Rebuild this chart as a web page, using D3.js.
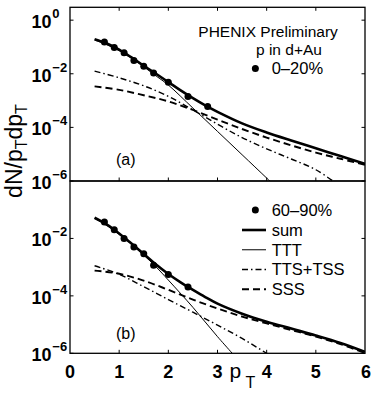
<!DOCTYPE html>
<html><head><meta charset="utf-8">
<script src="https://cdn.jsdelivr.net/npm/d3@7"></script>
<style>
body{margin:0;background:#fff}
svg{display:block}
text{font-family:"Liberation Sans",Arial,Helvetica,sans-serif;fill:#000}
</style>
</head><body>
<svg id="c" width="374" height="395"></svg>
<script>
// ---- data (values as log10 of dN/pTdpT) ----
const xTicks = [0, 1, 2, 3, 4, 5, 6];
const yTicksTop = [0, -2, -4, -6];
const yTicksBot = [-2, -4, -6];

// panel (a): 0-20%
const ptsTopX = [0.7, 0.9, 1.1, 1.3, 1.5, 1.7, 2.0, 2.4, 2.8];
const ptsTopY = [-0.81, -1.02, -1.22, -1.50, -1.72, -1.97, -2.32, -2.85, -3.22];
const sumTopX = [0.5, 0.75, 1, 1.25, 1.5, 1.75, 2, 2.25, 2.5, 2.75, 3, 3.5, 4, 4.5, 5, 5.5, 6];
const sumTopY = [-0.71, -0.87, -1.10, -1.39, -1.70, -2.00, -2.31, -2.62, -2.91, -3.18, -3.42, -3.85, -4.19, -4.49, -4.78, -5.07, -5.36];
const tttTopX = [0.5, 0.75, 1, 1.25, 1.5, 1.75, 2, 2.5, 3, 3.5, 4, 4.25];
const tttTopY = [-0.74, -0.92, -1.14, -1.42, -1.74, -2.08, -2.42, -3.28, -4.15, -5.02, -5.89, -6.33];
const ttsTopX = [0.5, 1, 1.5, 2, 2.5, 3, 3.5, 4, 4.5, 5, 5.5];
const ttsTopY = [-1.90, -2.15, -2.45, -2.84, -3.35, -3.88, -4.38, -4.80, -5.18, -5.58, -6.20];
const sssTopX = [0.5, 1, 1.5, 2, 2.5, 3, 3.5, 4, 4.5, 5, 5.5, 6];
const sssTopY = [-2.47, -2.60, -2.80, -3.03, -3.35, -3.71, -4.06, -4.38, -4.67, -4.94, -5.17, -5.40];

// panel (b): 60-90%
const ptsBotX = [0.7, 0.9, 1.1, 1.3, 1.5, 1.7, 2.0, 2.4];
const ptsBotY = [-1.43, -1.70, -2.00, -2.30, -2.53, -2.93, -3.26, -3.69];
const sumBotX = [0.5, 0.75, 1, 1.25, 1.5, 1.75, 2, 2.25, 2.5, 2.75, 3, 3.5, 4, 4.5, 5, 5.5, 6];
const sumBotY = [-1.28, -1.52, -1.83, -2.18, -2.54, -2.91, -3.24, -3.53, -3.79, -4.04, -4.27, -4.62, -4.90, -5.14, -5.38, -5.64, -5.95];
const tttBotX = [0.5, 0.75, 1, 1.25, 1.5, 1.75, 2, 2.5, 3, 3.5];
const tttBotY = [-1.30, -1.55, -1.86, -2.20, -2.58, -2.99, -3.45, -4.40, -5.42, -6.38];
const ttsBotX = [0.5, 1, 1.5, 2, 2.5, 3, 3.5, 4, 4.5];
const ttsBotY = [-2.95, -3.25, -3.68, -4.13, -4.57, -5.02, -5.48, -6.00, -6.50];
const sssBotX = [0.5, 1, 1.5, 2, 2.5, 3, 3.5, 4, 4.5, 5, 5.5, 6];
const sssBotY = [-3.12, -3.23, -3.47, -3.79, -4.13, -4.44, -4.72, -4.96, -5.19, -5.42, -5.68, -5.99];

const legendLabels = ["sum", "TTT", "TTS+TSS", "SSS"];

// ---- drawing ----
const svg = d3.select("#c");
const L = 70, R = 365;
const x = d3.scaleLinear().domain([0, 6]).range([L, R]);
const yTop = d3.scaleLog().domain([1e-6, Math.pow(10, 0.48)]).range([181, 7.3]);
const yBot = d3.scaleLog().domain([1e-6, 1]).range([353.3, 181]);

const styles = {
  sum: {w: 2.6, dash: null},
  ttt: {w: 1.0, dash: null},
  tts: {w: 1.4, dash: "6,3,1.5,3"},
  sss: {w: 1.9, dash: "7,4"}
};

function zip(xs, ys) { return xs.map((v, i) => ({x: v, y: Math.pow(10, ys[i])})); }

const panels = [
  {id: "a", y: yTop, top: 7.3, bot: 181, pts: zip(ptsTopX, ptsTopY),
   curves: [["sss", zip(sssTopX, sssTopY)], ["tts", zip(ttsTopX, ttsTopY)], ["ttt", zip(tttTopX, tttTopY)], ["sum", zip(sumTopX, sumTopY)]],
   yt: yTicksTop, label: "(a)", labelY: 165},
  {id: "b", y: yBot, top: 181, bot: 353.3, pts: zip(ptsBotX, ptsBotY),
   curves: [["sss", zip(sssBotX, sssBotY)], ["tts", zip(ttsBotX, ttsBotY)], ["ttt", zip(tttBotX, tttBotY)], ["sum", zip(sumBotX, sumBotY)]],
   yt: yTicksBot, label: "(b)", labelY: 338.5}
];

const TK = 3.5;
panels.forEach(p => {
  const clipId = "clip" + p.id;
  svg.append("clipPath").attr("id", clipId).append("rect")
    .attr("x", L).attr("y", p.top).attr("width", R - L).attr("height", p.bot - p.top);
  const g = svg.append("g").attr("clip-path", `url(#${clipId})`);
  const line = d3.line().x(d => x(d.x)).y(d => p.y(d.y)).curve(d3.curveCatmullRom.alpha(0.5));
  p.curves.forEach(([k, data]) => {
    const st = styles[k];
    g.append("path").attr("d", line(data)).attr("fill", "none").attr("stroke", "#000")
      .attr("stroke-width", st.w).attr("stroke-dasharray", st.dash);
  });
  g.selectAll("circle.pt").data(p.pts).join("circle").attr("class", "pt")
    .attr("cx", d => x(d.x)).attr("cy", d => p.y(d.y)).attr("r", 3.5).attr("fill", "#000");

  // ticks
  const ax = svg.append("g").attr("stroke", "#000").attr("stroke-width", 1);
  [1, 2, 3, 4, 5].forEach(v => {
    ax.append("line").attr("x1", x(v)).attr("x2", x(v)).attr("y1", p.bot).attr("y2", p.bot - TK);
    if (p.id === "a") ax.append("line").attr("x1", x(v)).attr("x2", x(v)).attr("y1", p.top).attr("y2", p.top + TK);
  });
  p.yt.forEach(e => {
    const yy = p.y(Math.pow(10, e));
    ax.append("line").attr("x1", L).attr("x2", L + TK).attr("y1", yy).attr("y2", yy);
    ax.append("line").attr("x1", R).attr("x2", R - TK).attr("y1", yy).attr("y2", yy);
    svg.append("text").attr("x", 51.5).attr("y", yy + 8).attr("text-anchor", "end")
      .attr("font-size", 18).attr("font-weight", "bold").text("10");
    svg.append("text").attr("x", 52.3).attr("y", yy - 2).attr("text-anchor", "start")
      .attr("font-size", 13).attr("font-weight", "bold").text(e === 0 ? "0" : "\u2212" + Math.abs(e));
  });
  svg.append("rect").attr("x", L).attr("y", p.top).attr("width", R - L).attr("height", p.bot - p.top)
    .attr("fill", "none").attr("stroke", "#000").attr("stroke-width", 1.3);
  svg.append("text").attr("x", 116).attr("y", p.labelY).attr("font-size", 16).text(p.label);
});

// x tick labels
xTicks.forEach(v => {
  svg.append("text").attr("x", x(v) + (v === 6 ? 1 : 0)).attr("y", 378).attr("text-anchor", "middle")
    .attr("font-size", 18).attr("font-weight", "bold").text(v);
});
// x axis title
svg.append("text").attr("x", 229.5).attr("y", 377.5).attr("font-size", 21).text("p");
svg.append("text").attr("x", 245.5).attr("y", 388).attr("font-size", 16).text("T");

// y axis title
const yl = svg.append("text").attr("transform", "translate(22,151) rotate(-90)")
  .attr("text-anchor", "middle").attr("font-size", 23);
yl.append("tspan").text("dN/p");
yl.append("tspan").attr("font-size", 16).attr("dy", 5).text("T");
yl.append("tspan").attr("dy", -5).text("dp");
yl.append("tspan").attr("font-size", 16).attr("dy", 5).text("T");

// top legend
svg.append("text").attr("x", 198.3).attr("y", 37).attr("font-size", 15.5).text("PHENIX Preliminary");
svg.append("text").attr("x", 256).attr("y", 54.5).attr("font-size", 15.5).text("p in d+Au");
svg.append("circle").attr("cx", x(3.77)).attr("cy", 68.5).attr("r", 3.5).attr("fill", "#000");
svg.append("text").attr("x", 271.7).attr("y", 74).attr("font-size", 16.5).text("0\u201320%");

// bottom legend
svg.append("circle").attr("cx", x(3.77)).attr("cy", 210).attr("r", 3.5).attr("fill", "#000");
svg.append("text").attr("x", 271.7).attr("y", 215.8).attr("font-size", 16.5).text("60\u201390%");
const keys = ["sum", "ttt", "tts", "sss"];
const legY = d3.scaleLinear().domain([0, 3]).range([230, 289.3]);
keys.forEach((k, i) => {
  const st = styles[k];
  const yy = legY(i);
  svg.append("line").attr("x1", 242).attr("x2", 266).attr("y1", yy).attr("y2", yy)
    .attr("stroke", "#000").attr("stroke-width", st.w).attr("stroke-dasharray", st.dash);
  svg.append("text").attr("x", 271.7).attr("y", yy + 5.8).attr("font-size", 16.5).text(legendLabels[i]);
});
</script>
</body></html>
